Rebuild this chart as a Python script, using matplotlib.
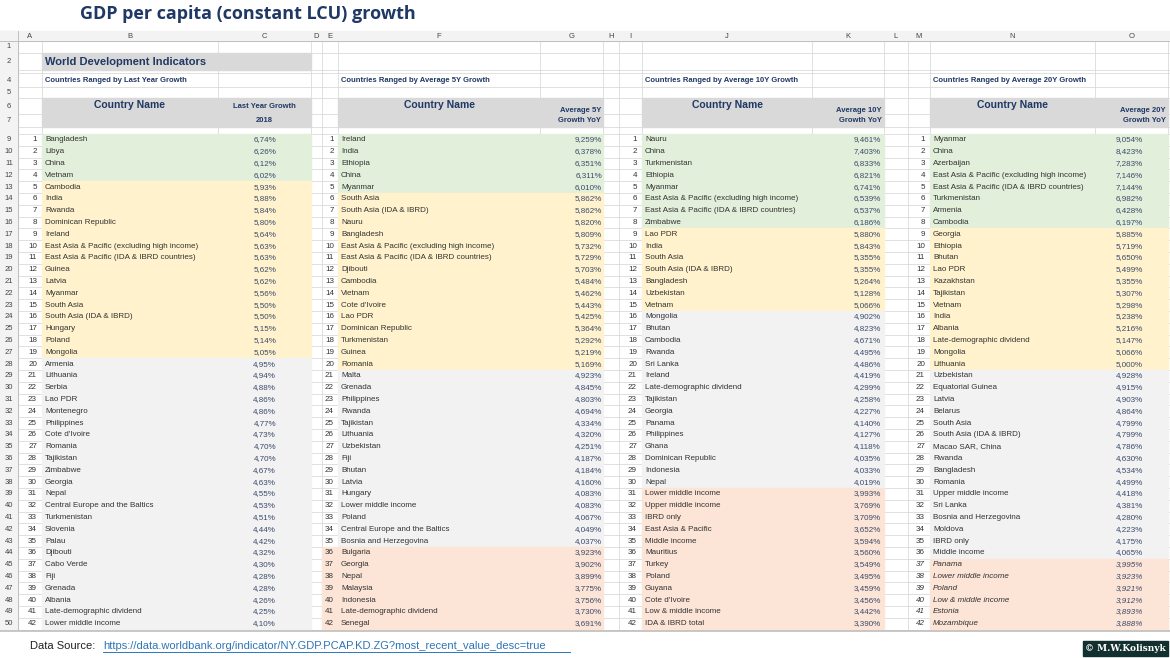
import matplotlib.pyplot as plt
from matplotlib.patches import Rectangle

# --- data -------------------------------------------------------------
names_1y = ["Bangladesh", "Libya", "China", "Vietnam", "Cambodia", "India", "Rwanda",
            "Dominican Republic", "Ireland", "East Asia & Pacific (excluding high income)",
            "East Asia & Pacific (IDA & IBRD countries)", "Guinea", "Latvia", "Myanmar",
            "South Asia", "South Asia (IDA & IBRD)", "Hungary", "Poland", "Mongolia",
            "Armenia", "Lithuania", "Serbia", "Lao PDR", "Montenegro", "Philippines",
            "Cote d'Ivoire", "Romania", "Tajikistan", "Zimbabwe", "Georgia", "Nepal",
            "Central Europe and the Baltics", "Turkmenistan", "Slovenia", "Palau",
            "Djibouti", "Cabo Verde", "Fiji", "Grenada", "Albania",
            "Late-demographic dividend", "Lower middle income"]
values_1y = [6.74, 6.26, 6.12, 6.02, 5.93, 5.88, 5.84, 5.80, 5.64, 5.63, 5.63, 5.62, 5.62,
             5.56, 5.50, 5.50, 5.15, 5.14, 5.05, 4.95, 4.94, 4.88, 4.86, 4.86, 4.77, 4.73,
             4.70, 4.70, 4.67, 4.63, 4.55, 4.53, 4.51, 4.44, 4.42, 4.32, 4.30, 4.28, 4.28,
             4.26, 4.25, 4.10]

names_5y = ["Ireland", "India", "Ethiopia", "China", "Myanmar", "South Asia",
            "South Asia (IDA & IBRD)", "Nauru", "Bangladesh",
            "East Asia & Pacific (excluding high income)",
            "East Asia & Pacific (IDA & IBRD countries)", "Djibouti", "Cambodia", "Vietnam",
            "Cote d'Ivoire", "Lao PDR", "Dominican Republic", "Turkmenistan", "Guinea",
            "Romania", "Malta", "Grenada", "Philippines", "Rwanda", "Tajikistan",
            "Lithuania", "Uzbekistan", "Fiji", "Bhutan", "Latvia", "Hungary",
            "Lower middle income", "Poland", "Central Europe and the Baltics",
            "Bosnia and Herzegovina", "Bulgaria", "Georgia", "Nepal", "Malaysia",
            "Indonesia", "Late-demographic dividend", "Senegal"]
values_5y = [9.259, 6.378, 6.351, 6.311, 6.010, 5.862, 5.862, 5.820, 5.809, 5.732, 5.729,
             5.703, 5.484, 5.462, 5.443, 5.425, 5.364, 5.292, 5.219, 5.169, 4.923, 4.845,
             4.803, 4.694, 4.334, 4.320, 4.251, 4.187, 4.184, 4.160, 4.083, 4.083, 4.067,
             4.049, 4.037, 3.923, 3.902, 3.899, 3.775, 3.756, 3.730, 3.691]

names_10y = ["Nauru", "China", "Turkmenistan", "Ethiopia", "Myanmar",
             "East Asia & Pacific (excluding high income)",
             "East Asia & Pacific (IDA & IBRD countries)", "Zimbabwe", "Lao PDR", "India",
             "South Asia", "South Asia (IDA & IBRD)", "Bangladesh", "Uzbekistan", "Vietnam",
             "Mongolia", "Bhutan", "Cambodia", "Rwanda", "Sri Lanka", "Ireland",
             "Late-demographic dividend", "Tajikistan", "Georgia", "Panama", "Philippines",
             "Ghana", "Dominican Republic", "Indonesia", "Nepal", "Lower middle income",
             "Upper middle income", "IBRD only", "East Asia & Pacific", "Middle income",
             "Mauritius", "Turkey", "Poland", "Guyana", "Cote d'Ivoire",
             "Low & middle income", "IDA & IBRD total"]
values_10y = [9.461, 7.403, 6.833, 6.821, 6.741, 6.539, 6.537, 6.186, 5.880, 5.843, 5.355,
              5.355, 5.264, 5.128, 5.066, 4.902, 4.823, 4.671, 4.495, 4.486, 4.419, 4.299,
              4.258, 4.227, 4.140, 4.127, 4.118, 4.035, 4.033, 4.019, 3.993, 3.769, 3.709,
              3.652, 3.594, 3.560, 3.549, 3.495, 3.459, 3.456, 3.442, 3.390]

names_20y = ["Myanmar", "China", "Azerbaijan", "East Asia & Pacific (excluding high income)",
             "East Asia & Pacific (IDA & IBRD countries)", "Turkmenistan", "Armenia",
             "Cambodia", "Georgia", "Ethiopia", "Bhutan", "Lao PDR", "Kazakhstan",
             "Tajikistan", "Vietnam", "India", "Albania", "Late-demographic dividend",
             "Mongolia", "Lithuania", "Uzbekistan", "Equatorial Guinea", "Latvia", "Belarus",
             "South Asia", "South Asia (IDA & IBRD)", "Macao SAR, China", "Rwanda",
             "Bangladesh", "Romania", "Upper middle income", "Sri Lanka",
             "Bosnia and Herzegovina", "Moldova", "IBRD only", "Middle income", "Panama",
             "Lower middle income", "Poland", "Low & middle income", "Estonia", "Mozambique"]
values_20y = [9.054, 8.423, 7.283, 7.146, 7.144, 6.982, 6.428, 6.197, 5.885, 5.719, 5.650,
              5.499, 5.355, 5.307, 5.298, 5.238, 5.216, 5.147, 5.066, 5.000, 4.928, 4.915,
              4.903, 4.864, 4.799, 4.799, 4.786, 4.630, 4.534, 4.499, 4.418, 4.381, 4.280,
              4.223, 4.175, 4.065, 3.995, 3.923, 3.921, 3.912, 3.893, 3.888]

# number of rows in green / yellow / grey bands (rest is salmon)
bands_1y = [4, 15, 23]
bands_5y = [5, 15, 15]
bands_10y = [8, 7, 15]
bands_20y = [8, 12, 16]

col_letters = ["A", "B", "C", "D", "E", "F", "G", "H", "I", "J", "K", "L", "M", "N", "O"]

# --- layout (pixels) --------------------------------------------------
FONT = "Liberation Sans"
NAVY = "#1f3864"
BAND_COLORS = ["#e2efda", "#fff2cc", "#f2f2f2", "#fce4d6"]
col_edges = [18, 42, 218, 311, 322, 338, 540, 603, 619, 642, 812, 884, 908, 930, 1095, 1168]
top_edges = [41, 53, 70, 73, 87, 98, 114, 127, 134]
ROW0, ROWH, NROWS = 134, 11.8, 42
row_edges = top_edges + [ROW0 + ROWH * (i + 1) for i in range(NROWS)]
SHEET_BOTTOM = row_edges[-1]

fig = plt.figure(figsize=(11.7, 6.58), dpi=100)
ax = fig.add_axes([0, 0, 1, 1])
ax.set_xlim(0, 1170)
ax.set_ylim(658, 0)
ax.axis("off")

# gridlines
for y in row_edges:
    ax.plot([0, 1170], [y, y], color="#dadada", lw=0.6, zorder=1)
for x in col_edges:
    ax.plot([x, x], [31, SHEET_BOTTOM], color="#dadada", lw=0.6, zorder=1)

# column header strip and row number strip
ax.add_patch(Rectangle((0, 31), 1170, 10, color="#f3f3f3", zorder=2))
ax.add_patch(Rectangle((0, 31), 18, SHEET_BOTTOM - 31, color="#f3f3f3", zorder=2))
ax.plot([0, 1170], [41, 41], color="#bfbfbf", lw=0.7, zorder=3)
ax.plot([18, 18], [31, SHEET_BOTTOM], color="#bfbfbf", lw=0.7, zorder=3)
ax.plot([0, 1170], [SHEET_BOTTOM + 1, SHEET_BOTTOM + 1], color="#bfbfbf", lw=1.2, zorder=3)
for i, c in enumerate(col_letters):
    xc = (col_edges[i] + col_edges[i + 1]) / 2
    ax.text(xc, 36.5, c, ha="center", va="center", fontsize=5.5, color="#444444",
            family=FONT, zorder=4)
for r in range(1, 51):
    y0, y1 = row_edges[r - 1], row_edges[r]
    if r in (3, 8):
        continue
    ax.text(9, (y0 + y1) / 2, str(r), ha="center", va="center", fontsize=5.5,
            color="#444444", family=FONT, zorder=4)

# title
ax.text(80, 14, "GDP per capita (constant LCU) growth", fontsize=13, fontweight="bold",
        color=NAVY, va="center", family="Open Sans")
ax.add_patch(Rectangle((42, 53), 269, 17, color="#d9d9d9", zorder=2))
ax.text(45, 62, "World Development Indicators", fontsize=8, fontweight="bold", color=NAVY,
        va="center", family=FONT, zorder=4)

blocks = [
    (names_1y, values_1y, bands_1y, 42, 311, 37, 276, "Last Year Growth",
     ["Last Year Growth", "2018"], 2, "center", 22),
    (names_5y, values_5y, bands_5y, 338, 603, 334, 602, "Average 5Y Growth",
     ["Average 5Y", "Growth YoY"], 3, "right", 322),
    (names_10y, values_10y, bands_10y, 642, 884, 637, 881, "Average 10Y Growth",
     ["Average 10Y", "Growth YoY"], 3, "right", 642),
    (names_20y, values_20y, bands_20y, 930, 1168, 925, 1143, "Average 20Y Growth",
     ["Average 20Y", "Growth YoY"], 3, "right", 930),
]

for names, vals, bands, x0, x1, rank_x, val_x, sub, vhead, dec, valign, salmon_x in blocks:
    name_x = x0 + 3
    ax.text(name_x, 80, "Countries Ranged by " + sub, fontsize=5.5, fontweight="bold",
            color=NAVY, va="center", family=FONT, zorder=4)
    ax.add_patch(Rectangle((x0, 98), x1 - x0, 29, color="#d9d9d9", zorder=2))
    name_col_right = col_edges[col_edges.index(x0) + 1]
    ax.text((x0 + name_col_right) / 2, 105, "Country Name", fontsize=7.5, fontweight="bold",
            color=NAVY, ha="center", va="center", family=FONT, zorder=4)
    vx = (name_col_right + x1) / 2 if valign == "center" else x1 - 2
    ys = [106, 121] if dec == 2 else [110, 121]
    for t, yy in zip(vhead, ys):
        ax.text(vx, yy, t, fontsize=5.5, fontweight="bold", color=NAVY,
                ha=valign, va="center", family=FONT, zorder=4)

    # band fills
    starts = [0, bands[0], bands[0] + bands[1], bands[0] + bands[1] + bands[2], NROWS]
    for k in range(4):
        a, b = starts[k], starts[k + 1]
        if b <= a:
            continue
        bx = salmon_x if k == 3 else x0
        ax.add_patch(Rectangle((bx, ROW0 + a * ROWH), x1 - bx, (b - a) * ROWH,
                               color=BAND_COLORS[k], zorder=2))

    for i, (n, v) in enumerate(zip(names, vals)):
        y = ROW0 + (i + 0.5) * ROWH
        style = "italic" if (x0 == 930 and i >= starts[3]) else "normal"
        ax.text(rank_x, y, str(i + 1), ha="right", va="center", fontsize=5.8,
                color="#333333", family=FONT, style=style, zorder=4)
        ax.text(name_x, y, n, ha="left", va="center", fontsize=5.8, color="#333333",
                family=FONT, style=style, zorder=4)
        s = f"{v:.{dec}f}%".replace(".", ",")
        ax.text(val_x, y, s, ha="right", va="center", fontsize=5.8, color="#3b4a6b",
                family=FONT, style=style, zorder=4)

# footer
ax.text(30, 646, "Data Source:", fontsize=8, color="#222222", va="center", family=FONT)
ax.text(103, 646, "https://data.worldbank.org/indicator/NY.GDP.PCAP.KD.ZG?most_recent_value_desc=true",
        fontsize=8, color="#2e75b6", va="center", family=FONT)
ax.plot([103, 570], [652, 652], color="#2e75b6", lw=0.7)
ax.add_patch(Rectangle((1083, 641), 85, 15, color="#12302f", zorder=2))
ax.text(1125, 648.5, "© M.W.Kolisnyk", fontsize=6.5, fontweight="bold", color="white",
        ha="center", va="center", family="DejaVu Serif", zorder=4)

fig.savefig("out.png", dpi=100)
